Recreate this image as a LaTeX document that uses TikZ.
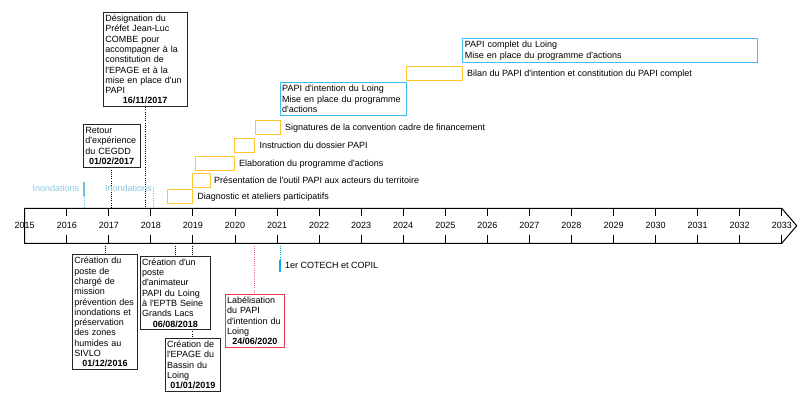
\documentclass[tikz,border=0pt]{standalone}
\usepackage{fontspec}
\setmainfont{Liberation Sans}[Ligatures=TeXOff]
\usetikzlibrary{calc}
\pgfdeclarelayer{bg}
\pgfsetlayers{bg,main}
\definecolor{barorange}{RGB}{255,198,50}
\definecolor{boxblue}{RGB}{60,190,240}
\definecolor{boxred}{RGB}{235,55,80}
\definecolor{dotred}{RGB}{240,110,130}
\definecolor{inotext}{RGB}{135,200,228}
\definecolor{inoline}{RGB}{110,190,220}
\definecolor{cotblue}{RGB}{20,165,230}
\newcommand\evfont{\fontsize{9}{10.3}\selectfont}
\newcommand\dte[1]{\\\hspace*{\fill}\textbf{#1}\hspace*{\fill}\null}
\begin{document}
\begin{tikzpicture}[x=1pt,y=-1pt,
  evbox/.style={draw=black!85, line width=0.9pt, fill=white, inner xsep=2pt, inner ysep=2.5pt, align=left, font=\evfont, anchor=north},
  papibox/.style={draw=boxblue, line width=1pt, fill=white, inner xsep=2pt, inner ysep=2.5pt, align=left, font=\evfont, anchor=north west},
  taskbar/.style={draw=barorange, line width=1pt, inner sep=0pt, anchor=north west},
  tasklbl/.style={font=\evfont, anchor=base west, inner sep=0pt},
  yearlbl/.style={font=\evfont, inner sep=0pt},
  tickmark/.style={line width=0.9pt},
  dotline/.style={line width=1pt, dash pattern=on 1pt off 1.2pt},
  axisline/.style={line width=1pt, line join=miter}]
\useasboundingbox (0,0) rectangle (800,407);

% axis
\draw[axisline] (24.7,208.3) -- (781.7,208.3) -- (796.7,225.8) -- (781.7,243.3) -- (24.7,243.3) -- cycle;
\coordinate (aT) at (0,208.3);
\coordinate (aB) at (0,243.3);
\foreach \k in {0,...,18}{
  \pgfmathsetmacro\xx{24.7+42.06*\k}
  \pgfmathtruncatemacro\yr{2015+\k}
  \node[yearlbl] (yr\k) at (\xx,225.8) {\yr};
}
\foreach \k in {1,...,18}{
  \pgfmathsetmacro\xx{24.7+42.06*\k}
  \draw[tickmark] (\xx,208.3) -- (\xx,215.5);
  \draw[tickmark] (\xx,234.5) -- (\xx,243.3);
}

% top event boxes
\node[evbox, text width=79.7pt] (ev1) at (145.15,12) {D\'esignation du\\Pr\'efet Jean-Luc\\COMBE pour\\accompagner \`a la\\constitution de\\l'EPAGE et \`a la\\mise en place d'un\\PAPI\dte{16/11/2017}};
\node[evbox, text width=52.7pt] (ev2) at (111.65,124.3) {Retour\\d'exp\'erience\\du CEGDD\dte{01/02/2017}};

% bottom event boxes
\node[evbox, text width=61.4pt] (ev3) at (105,254.3) {Cr\'eation du\\poste de\\charg\'e de\\mission\\pr\'evention des\\inondations et\\pr\'eservation\\des zones\\humides au\\SIVLO\dte{01/12/2016}};
\node[evbox, text width=66.7pt] (ev4) at (175.35,255.7) {Cr\'eation d'un\\poste\\d'animateur\\PAPI du Loing\\\`a l'EPTB Seine\\Grands Lacs\dte{06/08/2018}};
\node[evbox, text width=51.7pt] (ev5) at (192.85,338) {Cr\'eation de\\l'EPAGE du\\Bassin du\\Loing\dte{01/01/2019}};
\node[evbox, draw=boxred, text width=55.7pt] (ev6) at (254.85,294) {Lab\'elisation\\du PAPI\\d'intention du\\Loing\dte{24/06/2020}};

% task bars
\node[taskbar, minimum width=25pt, minimum height=14pt] (t1) at (167.3,189.3) {};
\node[taskbar, minimum width=17.4pt, minimum height=14.3pt] (t2) at (192.3,172.7) {};
\node[taskbar, minimum width=38.7pt, minimum height=14pt] (t3) at (195,155.7) {};
\node[taskbar, minimum width=20.3pt, minimum height=14pt] (t4) at (234,138.3) {};
\node[taskbar, minimum width=25pt, minimum height=14pt] (t5) at (255,120.3) {};
\node[taskbar, minimum width=56pt, minimum height=14pt] (t6) at (406.3,66) {};
\node[tasklbl] (l1) at ($(t1.east)+(3.8,2.9)$) {Diagnostic et ateliers participatifs};
\node[tasklbl] (l2) at ($(t2.east)+(3.2,2.9)$) {Pr\'esentation de l'outil PAPI aux acteurs du territoire};
\node[tasklbl] (l3) at ($(t3.east)+(4.2,2.9)$) {Elaboration du programme d'actions};
\node[tasklbl] (l4) at ($(t4.east)+(4.2,2.9)$) {Instruction du dossier PAPI};
\node[tasklbl] (l5) at ($(t5.east)+(3.8,2.9)$) {Signatures de la convention cadre de financement};
\node[tasklbl] (l6) at ($(t6.east)+(3.5,2.9)$) {Bilan du PAPI d'intention et constitution du PAPI complet};

% PAPI boxes
\node[papibox, text width=122pt] (p1) at (279.7,82.3) {PAPI d'intention du Loing\\Mise en place du programme\\d'actions};
\node[papibox, text width=290.7pt] (p2) at (462.3,38.3) {PAPI complet du Loing\\Mise en place du programme d'actions};

% flood markers
\node[tasklbl, text=inotext] (ino1) at (32.3,191.4) {Inondations};
\node[tasklbl, text=inotext] (ino2) at (105,191.4) {Inondations};
\coordinate (i1top) at (84,182.3);
\coordinate (i1mid) at (84,196);
\coordinate (i2top) at (153.3,186.5);

% COTECH marker
\coordinate (c1) at (280,260);
\coordinate (c2) at (280,272.3);
\node[tasklbl] (cot) at (285,268.2) {1er COTECH et COPIL};

\begin{pgfonlayer}{bg}
  \draw[dotline] (ev1.south) -- (ev1.south |- aT);
  \draw[dotline] (ev2.south) -- (ev2.south |- aT);
  \draw[dotline] (ev3.north |- aB) -- (ev3.north);
  \draw[dotline] (ev4.north |- aB) -- (ev4.north);
  \draw[dotline] (ev5.north |- aB) -- (ev5.north);
  \draw[dotline, dotred] (ev6.north |- aB) -- (ev6.north);
  \draw[inoline, line width=1.6pt] (i1top) -- (i1mid);
  \draw[inoline, dotline] (i1mid) -- (i1mid |- aT);
  \draw[inoline, dotline] (i2top) -- (i2top |- aT);
  \draw[cotblue, dotline] (c1 |- aB) -- (c1);
  \draw[cotblue, line width=1.6pt] (c1) -- (c2);
\end{pgfonlayer}
\end{tikzpicture}
\end{document}
